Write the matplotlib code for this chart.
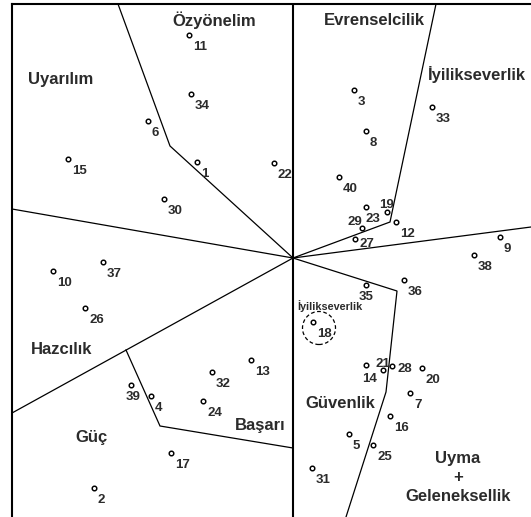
import matplotlib
matplotlib.use("Agg")
import matplotlib.pyplot as plt
from matplotlib.patches import Circle

plt.rcParams['font.family'] = ['Liberation Sans', 'DejaVu Sans']

# ---- data: item positions in the SSA space (centred on the origin) ----
item_ids = list(range(1, 41))
item_x = [-96, -199, 61, -142, 56, -145, 117, 73, 207, -240,
          -104, 103, -42, 73, -225, 97, -122, 20, 94, 129,
          90, -19, 73, -90, 80, -208, 62, 99, 69, -129,
          19, -81, 139, -102, 73, 111, -190, 181, -162, 46]
item_y = [96, -230, 168, -138, -176, 137, -135, 127, 21, -13,
          223, 36, -102, -107, 99, -158, -195, -64, 46, -110,
          -112, 95, 51, -143, -187, -50, 19, -108, 30, 59,
          -210, -114, 151, 164, -27, -22, -4, 3, -127, 81]

# region boundary polylines
boundaries = [
    ([0, -123, -175], [0, 112, 254]),
    ([0, -281], [0, 49]),
    ([0, -281], [0, -155]),
    ([-167, -133, 0], [-92, -168, -190]),
    ([0, 97, 143], [0, 36, 254]),
    ([0, 238], [0, 31]),
    ([0, 104, 93, 53], [0, -33, -134, -259]),
]

region_names = ['Özyönelim', 'Uyarılım', 'Evrenselcilik', 'İyilikseverlik',
                'Hazcılık', 'Güç', 'Başarı', 'Güvenlik', 'Uyma', '+', 'Geleneksellik']
region_x = [-79, -232, 81, 184, -231, -201, -33, 47, 165, 165, 165]
region_y = [238, 179, 238, 184, -91, -179, -167, -145, -200, -219, -238]

# label offsets (pixels) for items whose label is not at the default spot
default_off = (4, -14.5)
label_off = {21: (-7, 3.5), 14: (-4, -17), 28: (5, -6), 19: (-8, 4),
             23: (0, -14.5), 29: (-15, 3.5), 27: (5, -8), 35: (-7, -15),
             39: (-5, -15)}

text_col = '#2b2b2b'

fig = plt.figure(figsize=(5.31, 5.17), dpi=100)
ax = fig.add_axes([12 / 531, 0, 519 / 531, 513 / 517])
ax.set_xlim(-281, 238)
ax.set_ylim(-259, 254)
ax.set_xticks([])
ax.set_yticks([])
for s in ['right', 'bottom']:
    ax.spines[s].set_visible(False)
for s in ['left', 'top']:
    ax.spines[s].set_linewidth(1.5)

ax.axvline(0, color='black', lw=1.5)
for bx, by in boundaries:
    ax.plot(bx, by, color='black', lw=0.9, solid_joinstyle='miter')

ax.plot(item_x, item_y, 'o', ms=3.3, mfc='white', mec='black', mew=1.05, zorder=5)
for i, x, y in zip(item_ids, item_x, item_y):
    off = label_off.get(i, default_off)
    ax.annotate(str(i), (x, y), xytext=off, textcoords='offset pixels',
                ha='left', va='baseline', fontsize=9.5, fontweight='bold',
                color=text_col)

for name, x, y in zip(region_names, region_x, region_y):
    ax.text(x, y, name, ha='center', va='center', fontsize=12,
            fontweight='bold', color=text_col)

# dashed circle and small label around item 18
ax.add_patch(Circle((26, -70), 16.5, fill=False, ls=(0, (3, 2)), lw=0.9,
                    color='black'))
ax.text(37, -48, 'İyilikseverlik', ha='center', va='center', fontsize=7.8,
        fontweight='bold', color=text_col)

fig.savefig('out.png', dpi=100)
